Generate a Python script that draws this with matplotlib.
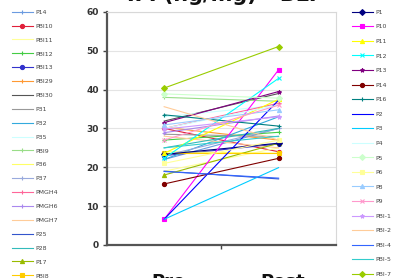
import matplotlib
matplotlib.use("Agg")
import matplotlib.pyplot as plt

# ===============================
# Data
# ===============================
timepoints = ["Pre", "Post"]

left_names = ["P14", "PBI10", "PBI11", "PBI12", "PBI13", "PBI29", "PBI30", "P31",
              "P32", "P35", "PBI9", "P36", "P37", "PMGH4", "PMGH6", "PMGH7",
              "P25", "P28", "P17", "PBI8"]
left_pre = [22.0, 30.0, 19.0, 27.0, 23.0, 30.3, 31.9, 28.5,
            22.0, 33.0, 38.0, 24.0, 23.0, 30.0, 28.9, 28.0,
            19.0, 25.0, 18.0, 23.6]
left_post = [30.0, 24.0, 25.0, 29.0, 26.0, 27.0, 39.0, 27.9,
             33.0, 36.0, 37.0, 23.6, 30.0, 36.5, 33.2, 25.0,
             17.0, 30.0, 26.2, 23.6]
left_colors = ["#6b9be0", "#e0203a", "#ffff99", "#44cc44", "#3333cc", "#ff9933",
               "#555555", "#999999", "#33aadd", "#ccffff", "#99dd88", "#ffff66",
               "#99aadd", "#ff6699", "#aa88ee", "#ffcc99", "#3355cc", "#33bbbb",
               "#99bb00", "#ffcc00"]
left_markers = ["+", "o", "", "+", "o", "+", "", "", "", "", "+", "", "+",
                "+", "+", "", "", "", "^", "s"]

right_names = ["P1", "P10", "P11", "P12", "P13", "P14", "P16", "P2", "P3", "P4",
               "P5", "P6", "P8", "P9", "PBI-1", "PBI-2", "PBI-4", "PBI-5", "PBI-7"]
right_pre = [23.3, 6.6, 23.6, 22.3, 31.5, 15.7, 33.5, 6.6, 6.6, 30.0,
             38.9, 21.0, 30.9, 27.0, 29.8, 35.6, 18.9, 25.0, 40.4]
right_post = [26.2, 45.1, 37.5, 42.9, 39.5, 22.3, 30.6, 37.3, 19.9, 36.0,
              37.8, 27.0, 34.8, 36.0, 33.0, 27.0, 17.2, 28.0, 51.1]
right_colors = ["#000080", "#ff00ff", "#ffff00", "#00ffff", "#800080", "#800000",
                "#008080", "#0000ff", "#00ccff", "#ccffff", "#ccffcc", "#ffff99",
                "#99ccff", "#ff99cc", "#cc99ff", "#ffcc99", "#3366ff", "#33cccc",
                "#99cc00"]
right_markers = ["D", "s", "^", "x", "*", "o", "+", "", "", "", "D", "s", "^",
                 "x", "*", "", "", "", "D"]

y_ticks = [0, 10, 20, 30, 40, 50, 60]

# ===============================
# Figure
# ===============================
fig = plt.figure(figsize=(3.96, 2.78), dpi=100)
ax = fig.add_axes([0.270, 0.119, 0.578, 0.838])

x = [1, 2]


def draw_group(names, pre, post, colors, markers):
    handles = []
    for n, a, b, c, m in zip(names, pre, post, colors, markers):
        h, = ax.plot(x, [a, b], color=c, lw=0.8, marker=m if m else None,
                     ms=3.0, mew=0.8, label=n, zorder=3)
        handles.append(h)
    return handles


left_handles = draw_group(left_names, left_pre, left_post, left_colors, left_markers)
right_handles = draw_group(right_names, right_pre, right_post, right_colors, right_markers)

ax.set_xlim(0.5, 2.5)
ax.set_ylim(0, 60)
ax.set_yticks(y_ticks)
ax.set_yticklabels([str(t) for t in y_ticks], fontsize=6.5, fontweight="bold",
                   color="#333333")
ax.set_xticks([1.5])
ax.set_xticklabels([""])
ax.tick_params(axis="y", direction="out", length=3, width=1, color="#444444", pad=3)
ax.tick_params(axis="x", direction="out", length=3, width=1, color="#444444")
ax.grid(axis="y", color="#e4e4e4", lw=0.8)
ax.set_axisbelow(True)

for s in ["left", "bottom"]:
    ax.spines[s].set_color("#555555")
    ax.spines[s].set_linewidth(1.6)
for s in ["top", "right"]:
    ax.spines[s].set_color("#d8d8d8")
    ax.spines[s].set_linewidth(0.8)

# category labels
for xi, lab in zip(x, timepoints):
    ax.text(xi + 0.04, -9.5, lab, ha="center", va="center", fontsize=13,
            fontweight="bold", color="#111111", clip_on=False)

# title (cut off at top in the reference)
fig.text(0.565, 0.997, "IFI (ng/mg) - BLT", ha="center", va="baseline",
         fontsize=15, fontweight="bold", color="#111111")

leg_kw = dict(frameon=False, fontsize=4.5, handlelength=3.3, handletextpad=0.4,
              borderpad=0, borderaxespad=0)
leg1 = fig.legend(handles=left_handles, loc="upper left", labelspacing=1.36,
                  bbox_to_anchor=(12 / 396, 1 - 9.5 / 278), **leg_kw)
leg2 = fig.legend(handles=right_handles, loc="upper left", labelspacing=1.47,
                  bbox_to_anchor=(352 / 396, 1 - 9.5 / 278), **leg_kw)
for leg in (leg1, leg2):
    for t in leg.get_texts():
        t.set_color("#444444")

fig.savefig("out.png", dpi=100)
